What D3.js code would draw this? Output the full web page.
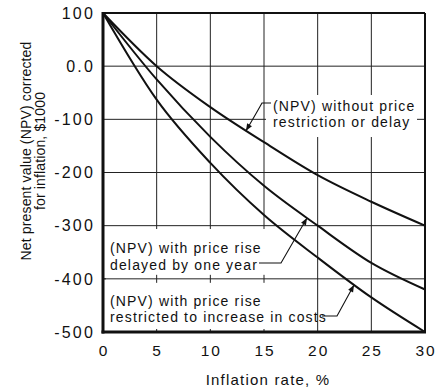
<!DOCTYPE html>
<html>
<head>
<meta charset="utf-8">
<script src="https://cdn.jsdelivr.net/npm/d3@7"></script>
<style>
  html, body { margin: 0; padding: 0; background: #fff; }
  svg { display: block; }
  text { font-family: "Liberation Sans", Arial, Helvetica, sans-serif; fill: #111; }
</style>
</head>
<body>
<svg id="chart" width="435" height="388"></svg>
<script>
// ---- data ----
const inflationRate = [0, 5, 10, 15, 20, 25, 30];
const npvWithoutRestriction = [100, 0, -77, -143, -205, -255, -300];
const npvDelayedOneYear = [100, -25, -133, -225, -300, -370, -420];
const npvRestrictedToCosts = [100, -63, -182, -280, -360, -435, -500];
const xTickValues = [0, 5, 10, 15, 20, 25, 30];
const xTickLabels = ["0", "5", "10", "15", "20", "25", "30"];
const yTickValues = [100, 0, -100, -200, -300, -400, -500];
const yTickLabels = ["100", "0.0", "-100", "-200", "-300", "-400", "-500"];
const seriesLabels = [
  ["(NPV) without price", "restriction or delay"],
  ["(NPV) with price rise", "delayed by one year"],
  ["(NPV) with price rise", "restricted to increase in costs"]
];
const xTitle = "Inflation rate, %";
const yTitle = ["Net present value (NPV) corrected", "for inflation, $1000"];

// ---- layout ----
const svg = d3.select("#chart");
const x = d3.scaleLinear().domain([0, 30]).range([103, 425]);
const y = d3.scaleLinear().domain([-500, 100]).range([332, 13]);
const ink = "#111";

// arrow marker
svg.append("defs").append("marker")
  .attr("id", "arr").attr("viewBox", "0 0 10 10")
  .attr("refX", 10).attr("refY", 5)
  .attr("markerWidth", 9).attr("markerHeight", 7)
  .attr("markerUnits", "userSpaceOnUse")
  .attr("orient", "auto")
  .append("path").attr("d", "M0,1 L10,5 L0,9 Z").attr("fill", ink);

// grid
const grid = svg.append("g");
grid.selectAll("line.v").data(xTickValues.filter(v => v > 0 && v < 30)).join("line")
  .attr("x1", d => x(d)).attr("x2", d => x(d))
  .attr("y1", y(100)).attr("y2", y(-500))
  .attr("stroke", "#222").attr("stroke-width", 1);
grid.selectAll("line.h").data(yTickValues.filter(v => v < 100 && v > -500)).join("line")
  .attr("x1", x(0)).attr("x2", x(30))
  .attr("y1", d => y(d)).attr("y2", d => y(d))
  .attr("stroke", "#222").attr("stroke-width", 1);

// white label backgrounds (as in the original drawing)
svg.append("rect").attr("x", 266).attr("y", 95).attr("width", 151).attr("height", 42).attr("fill", "#fff");
svg.append("rect").attr("x", 106).attr("y", 229).attr("width", 162).attr("height", 100).attr("fill", "#fff");
// -400 gridline stays visible through the lower labels
svg.append("line").attr("x1", x(0)).attr("x2", 268).attr("y1", y(-400)).attr("y2", y(-400))
  .attr("stroke", "#222").attr("stroke-width", 1);
[5, 10, 15].forEach(v => {
  svg.append("line").attr("x1", x(v)).attr("x2", x(v)).attr("y1", y(-400) - 4).attr("y2", y(-400) + 4)
    .attr("stroke", "#222").attr("stroke-width", 1);
});

// frame
svg.append("line").attr("x1", x(0)).attr("x2", x(30)).attr("y1", y(100)).attr("y2", y(100)).attr("stroke", ink).attr("stroke-width", 2);
svg.append("line").attr("x1", x(30)).attr("x2", x(30)).attr("y1", y(100)).attr("y2", y(-500)).attr("stroke", ink).attr("stroke-width", 2);
svg.append("line").attr("x1", x(0)).attr("x2", x(0)).attr("y1", y(100) - 1).attr("y2", y(-500) + 1.5).attr("stroke", ink).attr("stroke-width", 3);
svg.append("line").attr("x1", x(0) - 1.5).attr("x2", x(30) + 1).attr("y1", y(-500)).attr("y2", y(-500)).attr("stroke", ink).attr("stroke-width", 3);

// curves
const series = [npvWithoutRestriction, npvDelayedOneYear, npvRestrictedToCosts];
const line = d3.line().x(d => x(d[0])).y(d => y(d[1])).curve(d3.curveMonotoneX);
const paths = series.map(s => svg.append("path")
  .attr("d", line(inflationRate.map((r, i) => [r, s[i]])))
  .attr("fill", "none").attr("stroke", ink).attr("stroke-width", 2).node());

function pointAtX(pathNode, px) {
  const L = pathNode.getTotalLength();
  let lo = 0, hi = L;
  for (let k = 0; k < 40; k++) {
    const mid = (lo + hi) / 2;
    if (pathNode.getPointAtLength(mid).x < px) lo = mid; else hi = mid;
  }
  return pathNode.getPointAtLength((lo + hi) / 2);
}

// tick labels
svg.selectAll("text.yt").data(yTickValues).join("text")
  .attr("x", 95).attr("y", d => y(d)).attr("dy", "0.36em")
  .attr("text-anchor", "end").attr("font-size", 16).attr("letter-spacing", 2.2)
  .text((d, i) => yTickLabels[i]);
svg.selectAll("text.xt").data(xTickValues).join("text")
  .attr("x", d => x(d) + 1).attr("y", 355.5)
  .attr("text-anchor", "middle").attr("font-size", 15.5).attr("letter-spacing", 2)
  .text((d, i) => xTickLabels[i]);

// axis titles
svg.append("text").attr("x", 268).attr("y", 384.5).attr("text-anchor", "middle")
  .attr("font-size", 15).attr("letter-spacing", 1.2).text(xTitle);
const yt = svg.append("g").attr("transform", "translate(0,151) rotate(-90)");
yt.append("text").attr("x", 0).attr("y", 30.5).attr("text-anchor", "middle")
  .attr("font-size", 14).attr("letter-spacing", 0.15).text(yTitle[0]);
yt.append("text").attr("x", 0).attr("y", 44.5).attr("text-anchor", "middle")
  .attr("font-size", 14).attr("letter-spacing", 0.15).text(yTitle[1]);

// series labels
const labelPos = [[273, 110.5, 16], [110, 253, 17], [110, 306, 16]];
seriesLabels.forEach((lines, i) => {
  lines.forEach((t, j) => {
    svg.append("text").attr("x", labelPos[i][0]).attr("y", labelPos[i][1] + j * labelPos[i][2])
      .attr("font-size", 14).attr("letter-spacing", 1.15).text(t);
  });
});

// leaders with arrowheads
const tip1 = pointAtX(paths[0], 246);
svg.append("path").attr("d", `M271,103 L262,103 Q257,112 ${tip1.x},${tip1.y}`)
  .attr("fill", "none").attr("stroke", ink).attr("stroke-width", 1.1).attr("marker-end", "url(#arr)");
const tip2 = pointAtX(paths[1], 307);
svg.append("path").attr("d", `M259,263 L281,263 L${tip2.x},${tip2.y}`)
  .attr("fill", "none").attr("stroke", ink).attr("stroke-width", 1.1).attr("marker-end", "url(#arr)");
const tip3 = pointAtX(paths[2], 354);
svg.append("path").attr("d", `M322,316 L337,316 L${tip3.x},${tip3.y}`)
  .attr("fill", "none").attr("stroke", ink).attr("stroke-width", 1.1).attr("marker-end", "url(#arr)");
</script>
</body>
</html>
